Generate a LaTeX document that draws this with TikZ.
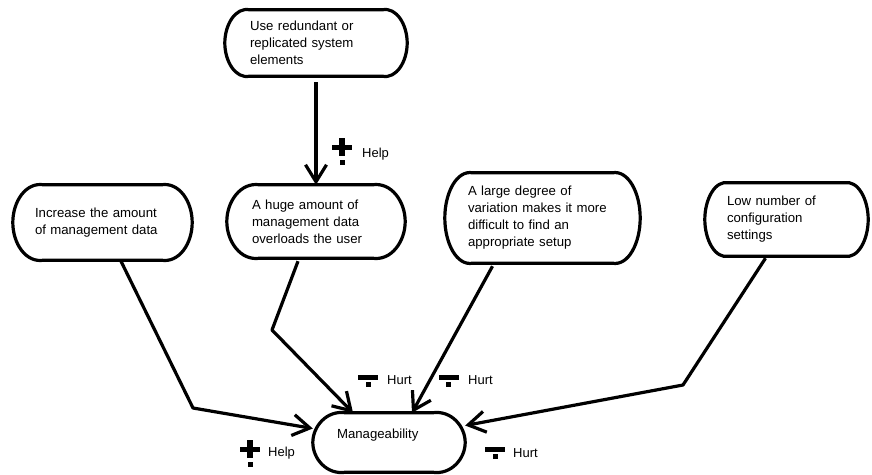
\documentclass[tikz,border=0pt]{standalone}
\usepackage{fontspec}
\setmainfont{Liberation Sans}
\usetikzlibrary{arrows.meta}

% outline of a goal: flat top and bottom, rounded ends of depth #2;
% #3 is the vertical reach of the end curve's handles
\newcommand\drawgoal[3]{%
  \draw[goalline] ([xshift=#2]#1.north west) -- ([xshift=-#2]#1.north east)
    .. controls ([xshift={-#2*0.42}, yshift=3]#1.north east) and ([yshift=#3]#1.east) .. (#1.east)
    .. controls ([yshift=-#3]#1.east) and ([xshift={-#2*0.42}, yshift=-3]#1.south east)
    .. ([xshift=-#2]#1.south east) -- ([xshift=#2]#1.south west)
    .. controls ([xshift={#2*0.42}, yshift=-3]#1.south west) and ([yshift=-#3]#1.west) .. (#1.west)
    .. controls ([yshift=#3]#1.west) and ([xshift={#2*0.42}, yshift=3]#1.north west)
    .. cycle;}

\tikzset{
  goal/.style={inner sep=0pt, align=left, font=\fontsize{13.2}{17}\selectfont},
  goalline/.style={line width=3.2pt, line join=round},
  conn/.style={line width=3.2pt, line join=round,
    -{Straight Barb[length=17pt, width=21pt]}},
  lbl/.style={anchor=west, inner sep=0pt, font=\fontsize{13}{15}\selectfont},
  helpsym/.pic={
    \fill (-3,0) rectangle (3,18);
    \fill (-10,7) rectangle (10,12);
    \fill (-2.5,22) rectangle (2.5,27);},
  hurtsym/.pic={
    \fill (-10,0) rectangle (10,4.5);
    \fill (-2.5,7) rectangle (2.5,12);}
}

\begin{document}
\begin{tikzpicture}[x=1pt, y=-1pt]
  \useasboundingbox[fill=white] (0,0) rectangle (872,474);

  % goals
  \node[goal, minimum width=182pt, minimum height=66pt, text width=132pt] (n1) at (316,43)
    {Use redundant or\\replicated system\\elements};
  \node[goal, minimum width=178pt, minimum height=73pt, text width=128pt] (n2) at (316,221.5)
    {A huge amount of\\management data\\overloads the user};
  \node[goal, minimum width=179pt, minimum height=75pt, text width=135pt] (n0) at (102.5,222.5)
    {Increase the amount\\of management data};
  \node[goal, minimum width=195pt, minimum height=90pt, text width=149pt] (n3) at (542.5,218)
    {A large degree of\\variation makes it more\\difficult to find an\\appropriate setup};
  \node[goal, minimum width=163pt, minimum height=73pt, text width=119pt] (n4) at (786.5,219.5)
    {Low number of\\configuration\\settings};
  \node[goal, minimum width=152pt, minimum height=59pt, text width=104pt, text depth=18pt] (m) at (389,442.5)
    {Manageability};

  \drawgoal{n1}{25}{18}
  \drawgoal{n2}{33}{20}
  \drawgoal{n0}{31}{21}
  \drawgoal{n3}{28}{25}
  \drawgoal{n4}{24}{20}
  \drawgoal{m}{33}{16}

  % bend points of the contribution links
  \coordinate (b0) at (193,408);
  \coordinate (b2) at (272,330);
  \coordinate (b4) at (683,385);

  % contribution links
  \draw[conn] ([yshift=-6]n1.south) -- (n2.north);
  \draw[conn] ([xshift=18]n0.south) -- (b0) -- ([yshift=14]m.west);
  \draw[conn] ([xshift=-18, yshift=-3]n2.south) -- (b2) -- ([xshift=-36]m.north);
  \draw[conn] ([xshift=-50, yshift=-3]n3.south) -- ([xshift=23]m.north);
  \draw[conn] ([xshift=-21, yshift=-2]n4.south) -- (b4) -- ([yshift=17]m.east);

  % contribution marks
  \pic at (342,138) {helpsym};
  \node[lbl] (h1) at (362,154) {Help};
  \pic at (250,440) {helpsym};
  \node[lbl] (h2) at (268,453) {Help};
  \pic at (368,375) {hurtsym};
  \node[lbl] (u1) at (387,380) {Hurt};
  \pic at (448.5,375) {hurtsym};
  \node[lbl] (u2) at (468,380) {Hurt};
  \pic at (495,447) {hurtsym};
  \node[lbl] (u3) at (513,453) {Hurt};
\end{tikzpicture}
\end{document}
